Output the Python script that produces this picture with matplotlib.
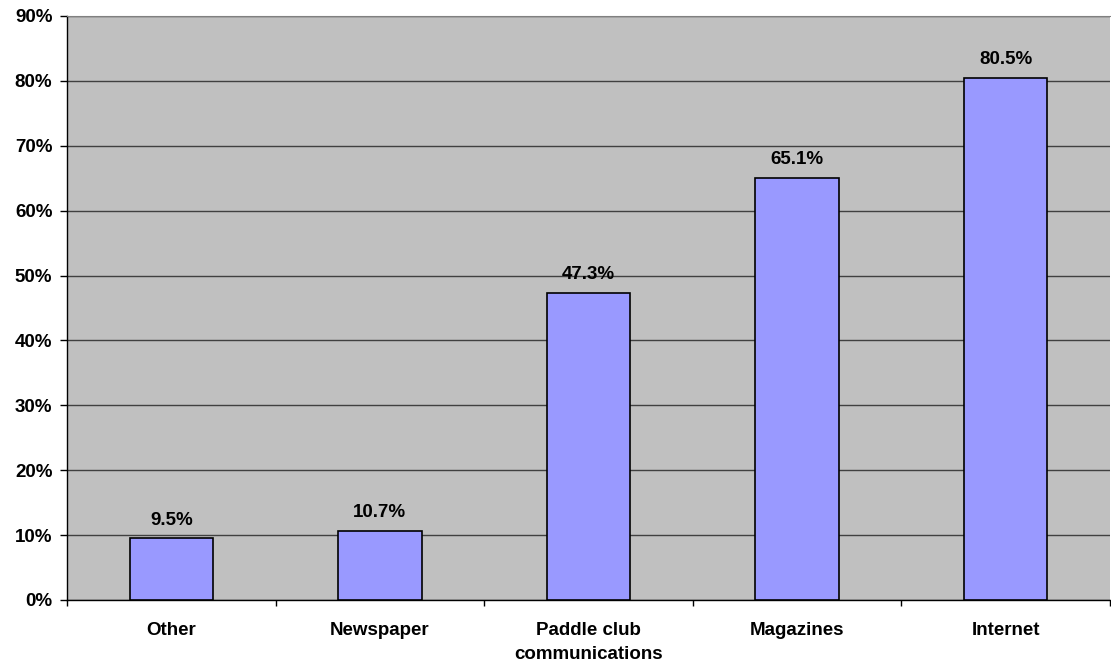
import numpy as np
import matplotlib.pyplot as plt
from matplotlib.ticker import FixedLocator

categories = ["Other", "Newspaper", "Paddle club\ncommunications", "Magazines", "Internet"]
values = [9.5, 10.7, 47.3, 65.1, 80.5]
yticks = [0, 10, 20, 30, 40, 50, 60, 70, 80, 90]

plt.rcParams["font.family"] = ["Liberation Sans", "DejaVu Sans"]
plt.rcParams["font.weight"] = "bold"
fs = 13.5

fig = plt.figure(figsize=(11.11, 6.67), dpi=100)
ax = fig.add_axes([67 / 1111, 67 / 667, 1043 / 1111, 584 / 667])
ax.set_facecolor("#C0C0C0")

x = np.arange(len(categories))
ax.bar(x, values, width=0.4, color="#9999FF", edgecolor="black", linewidth=1.2, zorder=3)

for xi, v in zip(x, values):
    ax.text(xi, v + 2.1, f"{v:.1f}%", ha="center", va="baseline",
            fontsize=fs, fontweight="bold", zorder=4)

ax.set_xlim(-0.5, len(categories) - 0.5)
ax.set_ylim(0, 90)
ax.set_yticks(yticks)
ax.set_yticklabels([f"{t}%" for t in yticks], fontsize=fs, fontweight="bold")
ax.yaxis.grid(True, color="#404040", linewidth=1, zorder=1)

# category labels without ticks, tick marks between categories
ax.set_xticks(x)
ax.set_xticklabels(categories, fontsize=fs, fontweight="bold", linespacing=1.5)
ax.tick_params(axis="x", which="major", length=0, pad=16)
ax.xaxis.set_minor_locator(FixedLocator(np.arange(-0.5, len(categories), 1.0)))
ax.tick_params(axis="x", which="minor", length=4.5, width=1, direction="out")
ax.tick_params(axis="y", length=5, width=1, direction="out", pad=5.5)

for side in ["left", "bottom"]:
    ax.spines[side].set_color("black")
    ax.spines[side].set_linewidth(1)
ax.spines["top"].set_color("#808080")
ax.spines["right"].set_visible(False)

fig.savefig("out.png", dpi=100)
